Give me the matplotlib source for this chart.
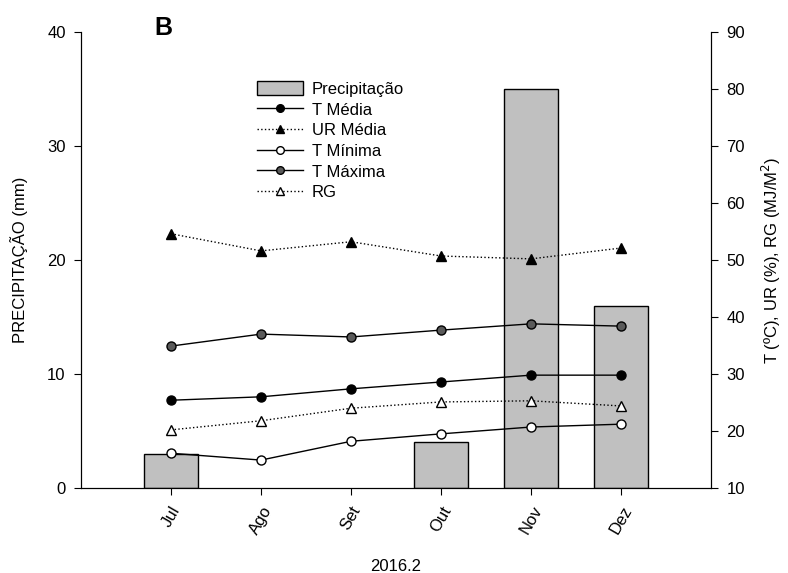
import matplotlib.pyplot as plt
from matplotlib.patches import Patch
from matplotlib.lines import Line2D

plt.rcParams['font.family'] = ['Liberation Sans', 'DejaVu Sans']

months = ["Jul", "Ago", "Set", "Out", "Nov", "Dez"]
precip = [3, 0, 0, 4, 35, 16]
t_media = [25.4, 26.0, 27.4, 28.6, 29.8, 29.8]
ur_media = [54.6, 51.6, 53.2, 50.7, 50.2, 52.1]
t_minima = [16.1, 14.9, 18.2, 19.5, 20.7, 21.2]
t_maxima = [34.9, 37.0, 36.5, 37.7, 38.8, 38.4]
rg = [20.2, 21.8, 24.0, 25.1, 25.3, 24.4]

x = list(range(1, len(months) + 1))

fig = plt.figure(figsize=(7.88, 5.73), dpi=100)
ax = fig.add_axes([0.1028, 0.1483, 0.7995, 0.7959])
ax2 = ax.twinx()

# months without rain get no bar at all (no outline either)
bx = [xi for xi, p in zip(x, precip) if p > 0]
bp = [p for p in precip if p > 0]
ax.bar(bx, bp, width=0.6, color="#c0c0c0", edgecolor="black", linewidth=1)
ax.set_xlim(0, 7)
ax.set_ylim(0, 40)
ax.set_yticks([0, 10, 20, 30, 40])
ax.set_xticks(x)
ax.set_xticklabels(months, rotation=60, ha="center", va="top")
ax.set_ylabel("PRECIPITAÇÃO (mm)", fontsize=12, labelpad=14)
ax.set_xlabel("2016.2", fontsize=12, labelpad=16)

ax2.plot(x, t_media, "-", color="black", lw=1, marker="o", ms=6.5,
         mfc="black", mec="black")
ax2.plot(x, ur_media, ":", color="black", lw=1, marker="^", ms=7,
         mfc="black", mec="black")
ax2.plot(x, t_minima, "-", color="black", lw=1, marker="o", ms=6.5,
         mfc="white", mec="black")
ax2.plot(x, t_maxima, "-", color="black", lw=1, marker="o", ms=6.5,
         mfc="#5a5a5a", mec="black")
ax2.plot(x, rg, ":", color="black", lw=1, marker="^", ms=7,
         mfc="white", mec="black")
ax2.set_ylim(10, 90)
ax2.set_yticks(range(10, 91, 10))
ax2.set_ylabel("T (ºC), UR (%), RG (MJ/M$^2$)", fontsize=12, labelpad=11)

for a in (ax, ax2):
    a.spines["top"].set_visible(False)
    a.tick_params(direction="out", labelsize=12, length=5, pad=6)

handles = [
    Patch(facecolor="#c0c0c0", edgecolor="black"),
    Line2D([], [], ls="-", color="black", lw=1, marker="o", ms=5.5, mfc="black", mec="black"),
    Line2D([], [], ls=":", color="black", lw=1, marker="^", ms=6, mfc="black", mec="black"),
    Line2D([], [], ls="-", color="black", lw=1, marker="o", ms=5.5, mfc="white", mec="black"),
    Line2D([], [], ls="-", color="black", lw=1, marker="o", ms=5.5, mfc="#5a5a5a", mec="black"),
    Line2D([], [], ls=":", color="black", lw=1, marker="^", ms=6, mfc="white", mec="black"),
]
labels = ["Precipitação", "T Média", "UR Média", "T Mínima", "T Máxima", "RG"]
ax2.legend(handles, labels, loc="upper left", bbox_to_anchor=(0.255, 0.925),
           frameon=False, fontsize=12, handlelength=2.8, labelspacing=0.3,
           handletextpad=0.5, handleheight=0.9)

fig.text(0.207, 0.952, "B", fontsize=18, fontweight="bold", ha="center", va="center")

fig.savefig("out.png", dpi=100)
